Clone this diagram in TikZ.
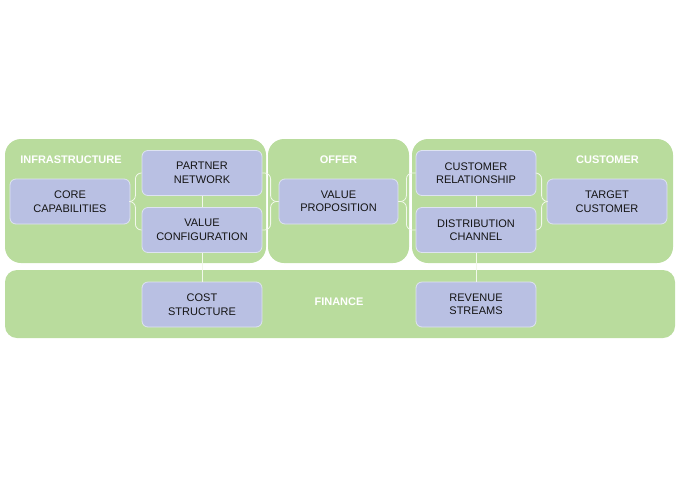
\documentclass[tikz,border=0pt]{standalone}
\usepackage{fontspec}
\setmainfont{Liberation Sans}
\definecolor{panelgreen}{RGB}{185,220,157}
\definecolor{boxfill}{RGB}{185,192,227}
\definecolor{boxline}{RGB}{222,227,242}
\definecolor{connline}{RGB}{242,248,236}
\definecolor{txt}{RGB}{20,20,20}
\begin{document}
\begin{tikzpicture}[x=1pt,y=-1pt,
  panel/.style={fill=panelgreen,draw=none,rounded corners=16pt,inner sep=0pt},
  bx/.style={fill=boxfill,draw=boxline,line width=0.8pt,rounded corners=6pt,
    minimum width=120pt,minimum height=45pt,inner sep=0pt,align=center,
    text=txt,font=\fontsize{11}{13.5}\selectfont},
  lbl/.style={text=white,font=\fontsize{11}{13.5}\selectfont\bfseries,inner sep=0pt},
  conn/.style={draw=connline,line width=0.8pt,rounded corners=6pt}]
\useasboundingbox (0,0) rectangle (680,480);
% panels
\node[panel,minimum width=261pt,minimum height=124pt] (pinfra) at (135.5,201) {};
\node[panel,minimum width=141pt,minimum height=124pt] (poffer) at (338.5,201) {};
\node[panel,minimum width=261pt,minimum height=124pt] (pcust) at (542.5,201) {};
\node[panel,minimum width=670pt,minimum height=68pt,rounded corners=12pt] (pfin) at (340,304) {};
% panel labels
\node[lbl] (linfra) at (71,160) {INFRASTRUCTURE};
\node[lbl] (loffer) at (338.5,160) {OFFER};
\node[lbl] (lcust) at (607.5,160) {CUSTOMER};
\node[lbl] (lfin) at (339,302) {FINANCE};
% boxes
\node[bx] (core) at (70,201.5) {CORE\\CAPABILITIES};
\node[bx] (partner) at (202,173) {PARTNER\\NETWORK};
\node[bx] (vc) at (202,230) {VALUE\\CONFIGURATION};
\node[bx,minimum width=119pt] (vp) at (338.5,201.5) {VALUE\\PROPOSITION};
\node[bx] (cr) at (476,173) {CUSTOMER\\RELATIONSHIP};
\node[bx] (dc) at (476,230) {DISTRIBUTION\\CHANNEL};
\node[bx] (tc) at (607,201.5) {TARGET\\CUSTOMER};
\node[bx] (cost) at (202,304.5) {COST\\STRUCTURE};
\node[bx] (rev) at (476,304.5) {REVENUE\\STREAMS};
% connectors
\draw[conn] (core.east) -- ++(5,0) |- (partner.west);
\draw[conn] (core.east) -- ++(5,0) |- (vc.west);
\draw[conn] (vp.west) -- ++(-8,0) |- (partner.east);
\draw[conn] (vp.west) -- ++(-8,0) |- (vc.east);
\draw[conn] (vp.east) -- ++(8,0) |- (cr.west);
\draw[conn] (vp.east) -- ++(8,0) |- (dc.west);
\draw[conn] (tc.west) -- ++(-5,0) |- (cr.east);
\draw[conn] (tc.west) -- ++(-5,0) |- (dc.east);
\draw[conn] (partner.south) -- (vc.north);
\draw[conn] (vc.south) -- (cost.north);
\draw[conn] (cr.south) -- (dc.north);
\draw[conn] (dc.south) -- (rev.north);
\end{tikzpicture}
\end{document}
